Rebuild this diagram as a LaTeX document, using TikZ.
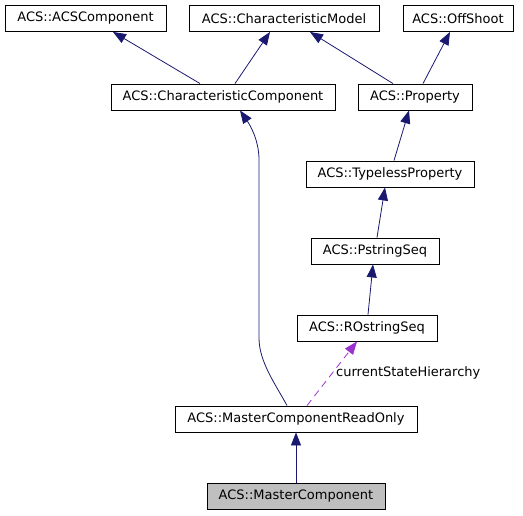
\documentclass[tikz,border=0pt]{standalone}
\usepackage{fontspec}
\setmainfont{DejaVu Sans}
\usetikzlibrary{arrows.meta}
\definecolor{edgeblue}{HTML}{191970}
\definecolor{edgepurple}{HTML}{9A32CD}
\definecolor{hlgray}{HTML}{BFBFBF}
\begin{document}
\begin{tikzpicture}[x=1pt,y=-1pt,
  cls/.style={draw=black,line width=0.9pt,fill=white,inner sep=0pt,minimum height=26pt,
    font=\fontsize{13}{15}\selectfont},
  inh/.style={draw=edgeblue,line width=0.8pt,-{Triangle[length=13pt,width=10pt]}},
  use/.style={draw=edgepurple,line width=0.8pt,dash pattern=on 7pt off 5pt,
    -{Triangle[length=13pt,width=10pt]}},
  lbl/.style={font=\fontsize{13}{15}\selectfont,inner sep=0pt,anchor=west}]
\useasboundingbox (0,0) rectangle (523,515);
\node[cls,minimum width=161pt] (acs) at (85.5,18.5) {ACS::ACSComponent};
\node[cls,minimum width=190pt] (cm) at (284,18.5) {ACS::CharacteristicModel};
\node[cls,minimum width=110pt] (off) at (458,18.5) {ACS::OffShoot};
\node[cls,minimum width=224pt] (cc) at (223,97) {ACS::CharacteristicComponent};
\node[cls,minimum width=114pt] (prop) at (415,97) {ACS::Property};
\node[cls,minimum width=168pt] (tp) at (390,174) {ACS::TypelessProperty};
\node[cls,minimum width=128pt] (ps) at (375,251) {ACS::PstringSeq};
\node[cls,minimum width=140pt] (ro) at (367,328) {ACS::ROstringSeq};
\node[cls,minimum width=242pt] (mcro) at (296,419) {ACS::MasterComponentReadOnly};
\node[cls,minimum width=178pt,fill=hlgray] (mc) at (296,496) {ACS::MasterComponent};

\draw[inh] ([xshift=-23pt]cc.north) -- ([xshift=27.5pt]acs.south);
\draw[inh] ([xshift=12pt]cc.north) -- ([xshift=-14pt]cm.south);
\draw[inh] ([xshift=-22pt]prop.north) -- ([xshift=26pt]cm.south);
\draw[inh] ([xshift=8pt]prop.north) -- ([xshift=-8pt]off.south);
\draw[inh] ([xshift=4pt]tp.north) -- ([xshift=-6pt]prop.south);
\draw[inh] ([xshift=2pt]ps.north) -- ([xshift=-5pt]tp.south);
\draw[inh] ([xshift=1pt]ro.north) -- ([xshift=-2pt]ps.south);
\coordinate (b1) at (259,338);
\coordinate (b2) at (259,160);
\draw[inh] ([xshift=-9pt]mcro.north) .. controls (276,385) and (259,362) .. (b1) -- (b2)
  .. controls (259,140) and (250,125) .. ([xshift=17pt]cc.south);
\draw[use] ([xshift=11pt]mcro.north) -- ([xshift=-10pt]ro.south);
\node[lbl] (lab) at (336,373) {currentStateHierarchy};
\draw[inh] (mc.north) -- (mcro.south);
\end{tikzpicture}
\end{document}
